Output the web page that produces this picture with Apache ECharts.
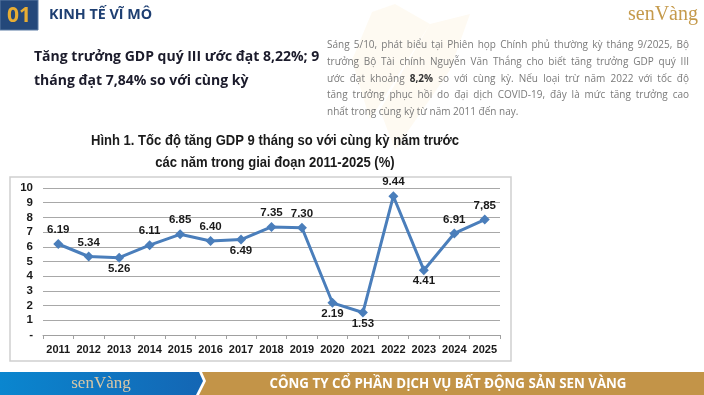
<!DOCTYPE html>
<html>
<head>
<meta charset="utf-8">
<script src="https://cdn.jsdelivr.net/npm/echarts@6/dist/echarts.min.js"></script>
<style>
html,body{margin:0;padding:0;background:#fff;}
#c{width:704px;height:395px;}
</style>
</head>
<body>
<div id="c"></div>
<script>
// ---- data ----
const years = ['2011','2012','2013','2014','2015','2016','2017','2018','2019','2020','2021','2022','2023','2024','2025'];
const gdp = [6.19, 5.34, 5.26, 6.11, 6.85, 6.40, 6.49, 7.35, 7.30, 2.19, 1.53, 9.44, 4.41, 6.91, 7.85];
const valueLabels = ['6.19','5.34','5.26','6.11','6.85','6.40','6.49','7.35','7.30','2.19','1.53','9.44','4.41','6.91','7,85'];
const labelSide = ['top','top','bottom','top','top','top','bottom','top','top','bottom','bottom','top','bottom','top','top'];
const yMin = 0, yMax = 10, yStep = 1;

const sectionNo = '01';
const sectionTitle = 'KINH TẾ VĨ MÔ';
const headline = ['Tăng trưởng GDP quý III ước đạt 8,22%; 9', 'tháng đạt 7,84% so với cùng kỳ'];
const paragraph = [
  'Sáng 5/10, phát biểu tại Phiên họp Chính phủ thường kỳ tháng 9/2025, Bộ',
  'trưởng Bộ Tài chính Nguyễn Văn Thắng cho biết tăng trưởng GDP quý III',
  'ước đạt khoảng **8,2% so với cùng kỳ. Nếu loại trừ năm 2022 với tốc độ',
  'tăng trưởng phục hồi do đại dịch COVID-19, đây là mức tăng trưởng cao',
  'nhất trong cùng kỳ từ năm 2011 đến nay.'
];
const chartTitle = ['Hình 1. Tốc độ tăng GDP 9 tháng so với cùng kỳ năm trước', 'các năm trong giai đoạn 2011-2025 (%)'];
const brand = 'senVàng';
const footerText = 'CÔNG TY CỔ PHẦN DỊCH VỤ BẤT ĐỘNG SẢN SEN VÀNG';

// ---- layout helpers ----
const bodyFont = '"Open Sans", "Noto Sans", sans-serif';
const cv = document.createElement('canvas').getContext('2d');
function measure(t, font){ cv.font = font; return cv.measureText(t).width; }

function justifiedParagraph(lines, x0, y0, width, lh, size){
  const els = [];
  lines.forEach((line, li) => {
    const words = line.split(' ');
    const items = words.map(w => {
      const bold = w.startsWith('**');
      const txt = bold ? w.slice(2) : w;
      const font = (bold ? 'bold ' : '') + size + 'px ' + bodyFont;
      return {txt, bold, w: measure(txt, font)};
    });
    const total = items.reduce((s, it) => s + it.w, 0);
    const last = li === lines.length - 1;
    const gap = last ? measure(' ', size + 'px ' + bodyFont) : (width - total) / (items.length - 1);
    let x = x0;
    items.forEach(it => {
      els.push({type:'text', x: x, y: y0 + li*lh, style:{text: it.txt, font: (it.bold?'bold ':'') + size + 'px ' + bodyFont, fill: it.bold ? '#333' : '#7a7a7a', verticalAlign:'middle'}});
      x += it.w + gap;
    });
  });
  return els;
}

const chart = echarts.init(document.getElementById('c'), null, {renderer:'canvas'});

const titleFont = 'bold 14.5px "Liberation Sans", Arial, sans-serif';
const graphics = [
  // faint watermark petals
  {type:'polygon', shape:{points:[[372,12],[395,4],[430,24],[370,120],[352,60]]}, style:{fill:'rgba(245,215,150,0.12)'}, z:-10},
  {type:'polygon', shape:{points:[[430,24],[470,14],[450,70],[395,150],[380,110]]}, style:{fill:'rgba(245,215,150,0.12)'}, z:-10},
  // header
  {type:'rect', shape:{x:0,y:0,width:38,height:30}, style:{fill:'#24487a', stroke:'#5b7aa3', lineWidth:1}},
  {type:'text', x:19, y:16, style:{text:sectionNo, font:'bold 21px "Open Sans", sans-serif', fill:'#e7ad34', align:'center', verticalAlign:'middle'}},
  {type:'text', x:49, y:15, style:{text:sectionTitle, font:'bold 14.3px "Open Sans", sans-serif', fill:'#1e3f72', verticalAlign:'middle'}},
  {type:'text', x:628, y:15, style:{text:brand, font:'20px "Liberation Serif", serif', fill:'#c59a4b', verticalAlign:'middle'}},
  // headline
  {type:'text', x:34, y:57, style:{text:headline[0], font:'bold 14px "Open Sans", sans-serif', fill:'#1b1b2b', verticalAlign:'middle'}},
  {type:'text', x:34, y:81, style:{text:headline[1], font:'bold 14px "Open Sans", sans-serif', fill:'#1b1b2b', verticalAlign:'middle'}},
  // chart frame
  {type:'rect', shape:{x:10,y:177,width:501,height:184}, style:{fill:'#fff', stroke:'#cfcfcf', lineWidth:1.5}, z:-1},
  {type:'text', x:275, y:141, scaleX:0.9, originX:0, originY:0, style:{text:chartTitle[0], font:titleFont, fill:'#1a1a1a', align:'center', verticalAlign:'middle'}},
  {type:'text', x:275, y:163, scaleX:0.9, originX:0, originY:0, style:{text:chartTitle[1], font:titleFont, fill:'#1a1a1a', align:'center', verticalAlign:'middle'}},
  // footer
  {type:'polygon', shape:{points:[[0,372],[199,372],[203,381],[196,395],[0,395]]}, style:{fill:new echarts.graphic.LinearGradient(0,0,1,0,[{offset:0,color:'#0a86cf'},{offset:1,color:'#1466b4'}])}},
  {type:'polygon', shape:{points:[[202,372],[704,372],[704,395],[199,395],[206,381]]}, style:{fill:'#c39448'}},
  {type:'text', x:101, y:384, style:{text:brand, font:'17px "Liberation Serif", serif', fill:'#d8c7a6', align:'center', verticalAlign:'middle'}},
  {type:'text', x:448, y:384, style:{text:footerText, font:'bold 13.3px "Open Sans", sans-serif', fill:'#ffffff', align:'center', verticalAlign:'middle'}}
].concat(justifiedParagraph(paragraph, 327, 45.5, 362, 16.6, 10));

chart.setOption({
  animation:false,
  backgroundColor:'#ffffff',
  graphic: graphics,
  grid:{left:43, right:204, top:188, bottom:60},
  xAxis:{
    type:'category', data: years, boundaryGap:true,
    axisLine:{show:true, lineStyle:{color:'#a0a0a0', width:1}},
    axisTick:{show:true, length:4, lineStyle:{color:'#a0a0a0'}},
    axisLabel:{interval:0, color:'#1a1a1a', fontWeight:'bold', fontSize:11, fontFamily:'"Liberation Sans", Arial, sans-serif', margin:9}
  },
  yAxis:{
    type:'value', min:yMin, max:yMax, interval:yStep,
    axisLine:{show:false}, axisTick:{show:false},
    splitLine:{lineStyle:{color:'#a8a8a8', width:1}},
    axisLabel:{color:'#1a1a1a', fontWeight:'bold', fontSize:11.5, fontFamily:'"Liberation Sans", Arial, sans-serif', margin:10,
      formatter: v => v === 0 ? '-' : String(v)}
  },
  series:[{
    type:'line', data: gdp.map((v,i)=>({value:v, label:{position:labelSide[i], distance: labelSide[i]==='top'?3:0, formatter: valueLabels[i]}})),
    symbol:'diamond', symbolSize:10,
    lineStyle:{color:'#4a7ebb', width:3},
    itemStyle:{color:'#4a7ebb'},
    label:{show:true, color:'#1a1a1a', fontWeight:'bold', fontSize:11.5, fontFamily:'"Liberation Sans", Arial, sans-serif'}
  }]
});
</script>
</body>
</html>
